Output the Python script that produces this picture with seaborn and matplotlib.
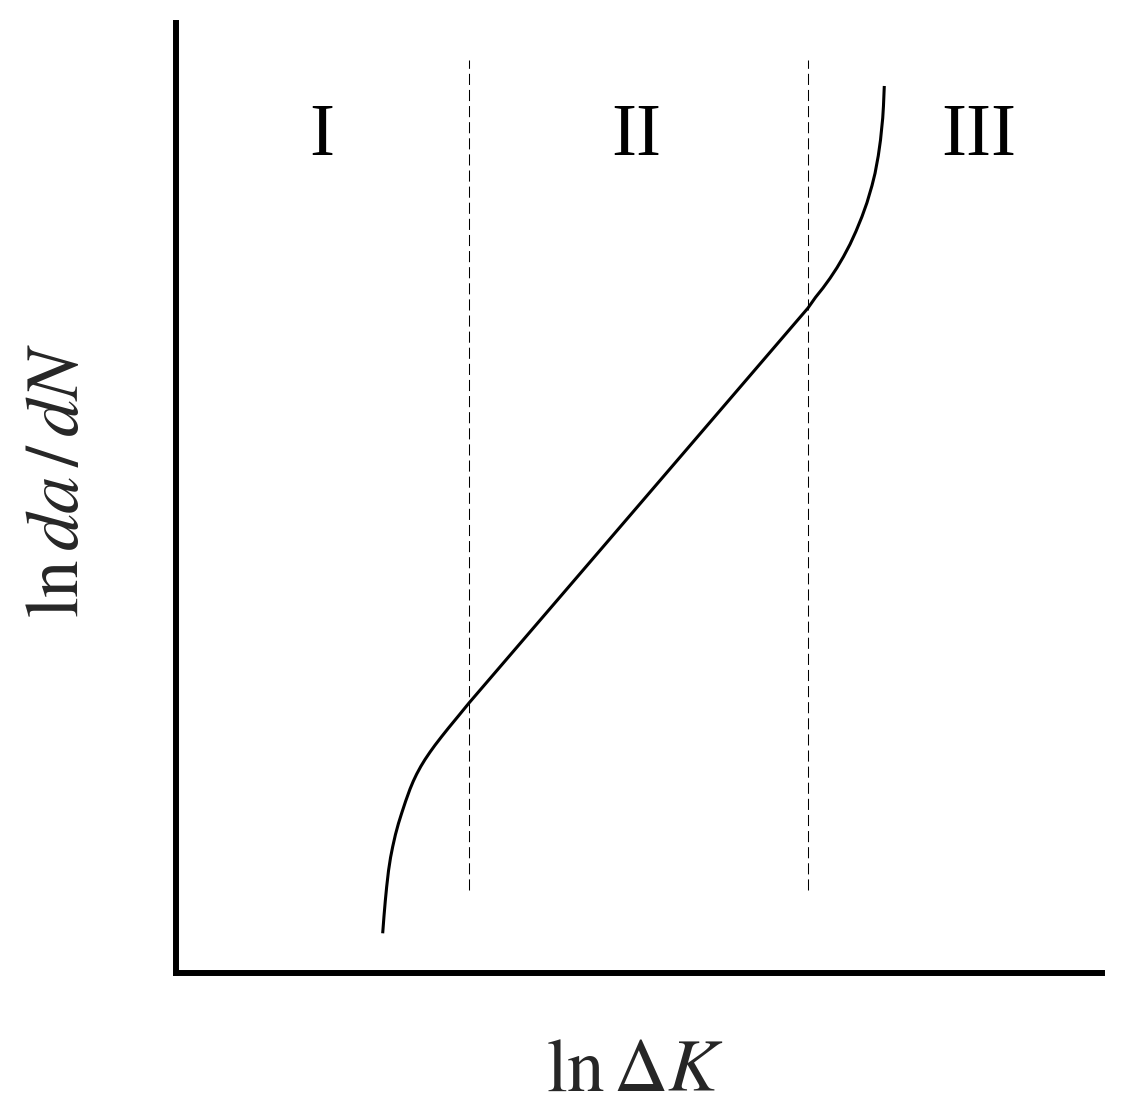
import numpy as np
import pandas as pd
import matplotlib
matplotlib.use("Agg")
import matplotlib.pyplot as plt
import seaborn as sns

# ---- data (abstract ln ΔK / ln da/dN units) ----
curve_x = [2.232, 2.246, 2.260, 2.275, 2.295, 2.317, 2.340, 2.370, 2.402, 2.437,
           2.480, 2.527, 2.562, 2.599, 2.644, 2.689, 2.743, 2.797, 2.869, 2.941,
           3.050, 3.164, 4.995, 6.825, 6.906, 6.987, 7.063, 7.138, 7.208, 7.279,
           7.343, 7.408, 7.462, 7.516, 7.549, 7.584, 7.608, 7.632, 7.640, 7.649]
curve_y = [0.418, 0.597, 0.757, 0.907, 1.077, 1.216, 1.329, 1.458, 1.573, 1.682,
           1.809, 1.936, 2.018, 2.094, 2.175, 2.247, 2.325, 2.398, 2.489, 2.577,
           2.706, 2.842, 4.921, 7.000, 7.112, 7.211, 7.313, 7.424, 7.540, 7.671,
           7.807, 7.962, 8.109, 8.288, 8.418, 8.602, 8.768, 9.000, 9.126, 9.337]
region_bounds = [3.164, 6.825]
region_line_y = [0.874, 9.61]
region_labels = ["I", "II", "III"]
region_label_x = [1.577, 4.968, 8.672]
region_label_y = 8.80

df = pd.DataFrame({"x": curve_x, "y": curve_y})

sns.set_style("white")
plt.rcParams["mathtext.fontset"] = "stix"
plt.rcParams["lines.scale_dashes"] = False

W, H = 1126, 1119
fig = plt.figure(figsize=(W / 100, H / 100), dpi=100)
ax = fig.add_axes([176 / W, (H - 973) / H, 926 / W, 950 / H])

sns.lineplot(data=df, x="x", y="y", sort=False, estimator=None,
             color="black", linewidth=2.2, ax=ax)
for ln in ax.get_lines():
    ln.set_solid_joinstyle("round")
    ln.set_solid_capstyle("butt")

ax.vlines(region_bounds, region_line_y[0], region_line_y[1], colors="black",
          linewidth=0.75, linestyles=[(0, (8.0, 3.6))])

for lab, lx in zip(region_labels, region_label_x):
    ax.text(lx, region_label_y, lab, ha="center", va="center",
            fontsize=54, family="Liberation Serif", color="black")

ax.set_xlim(0, 10)
ax.set_ylim(0, 10)
ax.set_xticks([])
ax.set_yticks([])

for side in ["top", "right"]:
    ax.spines[side].set_visible(False)
for side in ["left", "bottom"]:
    ax.spines[side].set_linewidth(4.3)
    ax.spines[side].set_color("black")
    ax.spines[side].set_capstyle("projecting")

ax.set_xlabel(r"$\mathrm{ln}\,\Delta K$", fontsize=54)
ax.set_ylabel(r"$\mathrm{ln}\,da\,/\,dN$", fontsize=54)
ax.xaxis.label.set_va("center")
ax.yaxis.label.set_va("center")
ax.xaxis.set_label_coords((635 - 176) / 926, (973 - 1070) / 950)
ax.yaxis.set_label_coords((57 - 176) / 926, (973 - 480) / 950)

fig.savefig("out.png", dpi=100, facecolor="white")
